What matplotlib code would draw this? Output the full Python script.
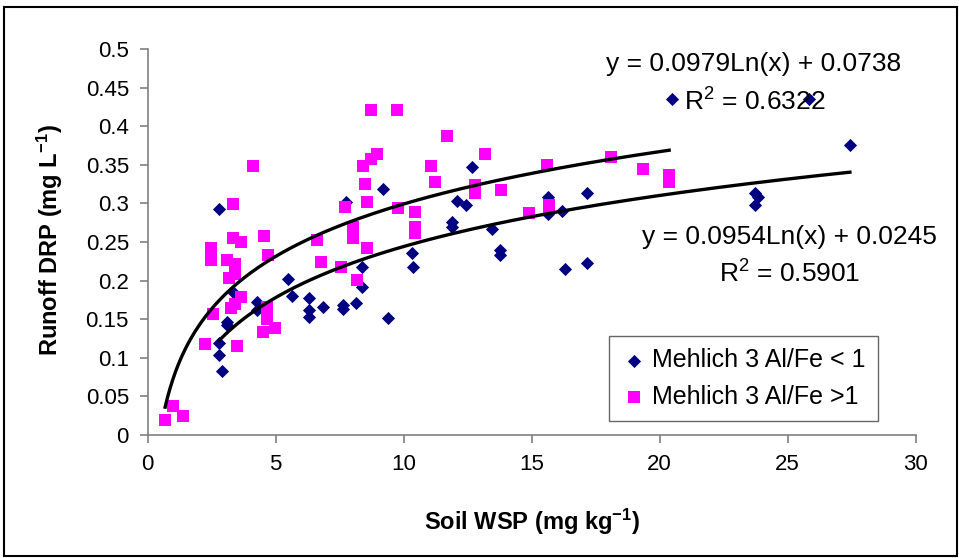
import numpy as np
import matplotlib
matplotlib.use('Agg')
import matplotlib.pyplot as plt
from matplotlib.patches import Rectangle

plt.rcParams['font.family'] = 'Liberation Sans'
plt.rcParams['mathtext.default'] = 'regular'

# Mehlich 3 Al/Fe < 1 (diamonds)
x_lo = [2.79, 3.37, 3.10, 3.10, 2.79, 2.79, 2.90, 4.27, 4.27, 5.48, 5.64, 6.30, 6.30, 6.30,
        6.85, 7.63, 7.63, 8.14, 8.37, 8.37, 9.39, 7.75, 9.19, 12.67, 12.09, 12.43, 11.89,
        11.89, 13.45, 10.32, 10.36, 13.76, 13.76, 15.64, 15.64, 16.19, 17.17, 16.30, 17.17,
        20.48, 25.83, 27.43, 23.73, 23.85, 23.73]
y_lo = [0.293, 0.184, 0.146, 0.142, 0.119, 0.104, 0.083, 0.172, 0.162, 0.202, 0.180, 0.177,
        0.162, 0.153, 0.166, 0.168, 0.163, 0.171, 0.218, 0.192, 0.152, 0.302, 0.319, 0.347,
        0.303, 0.298, 0.276, 0.269, 0.267, 0.236, 0.218, 0.240, 0.233, 0.308, 0.286, 0.290,
        0.313, 0.215, 0.223, 0.435, 0.435, 0.376, 0.313, 0.308, 0.298]

# Mehlich 3 Al/Fe > 1 (squares)
x_hi = [0.68, 0.99, 1.38, 2.24, 2.47, 2.47, 2.55, 3.33, 3.33, 3.64, 3.10, 3.41, 3.41, 3.18,
        3.65, 3.41, 3.25, 3.49, 4.54, 4.70, 4.66, 4.66, 4.50, 4.97, 6.61, 6.77, 7.55, 7.71,
        8.02, 8.02, 8.18, 8.57, 8.57, 4.11, 8.73, 8.96, 8.73, 8.41, 8.49, 9.74, 11.69, 13.18,
        11.07, 11.22, 12.78, 12.78, 13.80, 9.78, 10.44, 10.44, 10.44, 15.60, 15.68, 15.68,
        14.90, 18.10, 19.35, 20.37, 20.37]
y_hi = [0.019, 0.038, 0.025, 0.118, 0.242, 0.227, 0.157, 0.299, 0.255, 0.250, 0.227, 0.221,
        0.209, 0.203, 0.179, 0.170, 0.165, 0.115, 0.258, 0.233, 0.166, 0.150, 0.133, 0.139,
        0.253, 0.224, 0.218, 0.295, 0.269, 0.255, 0.201, 0.242, 0.302, 0.348, 0.421, 0.364,
        0.358, 0.348, 0.325, 0.421, 0.387, 0.364, 0.348, 0.328, 0.324, 0.313, 0.317, 0.294,
        0.289, 0.269, 0.262, 0.350, 0.298, 0.294, 0.288, 0.360, 0.345, 0.337, 0.328]

# log trendlines as printed on the chart: y = a*ln(x) + b
fit_lo = (0.0954, 0.0245)
fit_hi = (0.0979, 0.0738)

y_ticks = [0, 0.05, 0.1, 0.15, 0.2, 0.25, 0.3, 0.35, 0.4, 0.45, 0.5]
x_ticks = [0, 5, 10, 15, 20, 25, 30]

fig = plt.figure(figsize=(9.59, 5.58), dpi=100)
ax = fig.add_axes([147.7 / 959, 1 - 435 / 558, 768 / 959, 386 / 558])

ax.scatter(x_lo, y_lo, marker='D', s=6.7 ** 2, color='#000080', linewidths=0,
           label='Mehlich 3 Al/Fe < 1', zorder=3)
ax.scatter(x_hi, y_hi, marker='s', s=8.2 ** 2, color='#FF00FF', linewidths=0,
           label='Mehlich 3 Al/Fe >1', zorder=4)

for xs, (a, b) in [(x_hi, fit_hi), (x_lo, fit_lo)]:
    xx = np.linspace(min(xs), max(xs), 200)
    ax.plot(xx, a * np.log(xx) + b, color='black', lw=2.4, zorder=5)

ax.set_xlim(0, 30)
ax.set_ylim(0, 0.5)
ax.set_xticks(x_ticks)
ax.set_yticks(y_ticks)
ax.set_yticklabels([f'{v:g}' for v in y_ticks])
for s in ['top', 'right']:
    ax.spines[s].set_visible(False)
for s in ['left', 'bottom']:
    ax.spines[s].set_color('#808080')
    ax.spines[s].set_linewidth(1.2)
ax.tick_params(direction='out', length=5.5, width=1.2, color='#808080',
               labelsize=16, pad=8)

ax.set_xlabel('Soil WSP (mg kg$^{-1}$)', fontsize=17, fontweight='bold', va='center')
ax.xaxis.set_label_coords(0.5, -0.225)
ax.set_ylabel('Runoff DRP (mg L$^{-1}$)', fontsize=17, fontweight='bold', va='center')
ax.yaxis.set_label_coords(-0.127, 0.505)

ax.text(23.68, 0.481, 'y = 0.0979Ln(x) + 0.0738', fontsize=19, ha='center', va='center')
ax.text(23.72, 0.431, 'R$^2$ = 0.6322', fontsize=19, ha='center', va='center')
ax.text(25.05, 0.257, 'y = 0.0954Ln(x) + 0.0245', fontsize=19, ha='center', va='center')
ax.text(25.09, 0.208, 'R$^2$ = 0.5901', fontsize=19, ha='center', va='center')

leg = ax.legend(loc='lower left', bbox_to_anchor=(0.601, 0.036), borderaxespad=0,
                fontsize=18, frameon=True, fancybox=False, handletextpad=0.2,
                handlelength=1.0, borderpad=0.5, labelspacing=0.5, scatterpoints=1)
leg.get_frame().set_edgecolor('#404040')
leg.get_frame().set_linewidth(1.0)

fig.patches.append(Rectangle((4 / 959, 2 / 558), 953 / 959, 549 / 558, transform=fig.transFigure,
                             fill=False, edgecolor='black', linewidth=1.5))

fig.savefig('out.png', dpi=100)
